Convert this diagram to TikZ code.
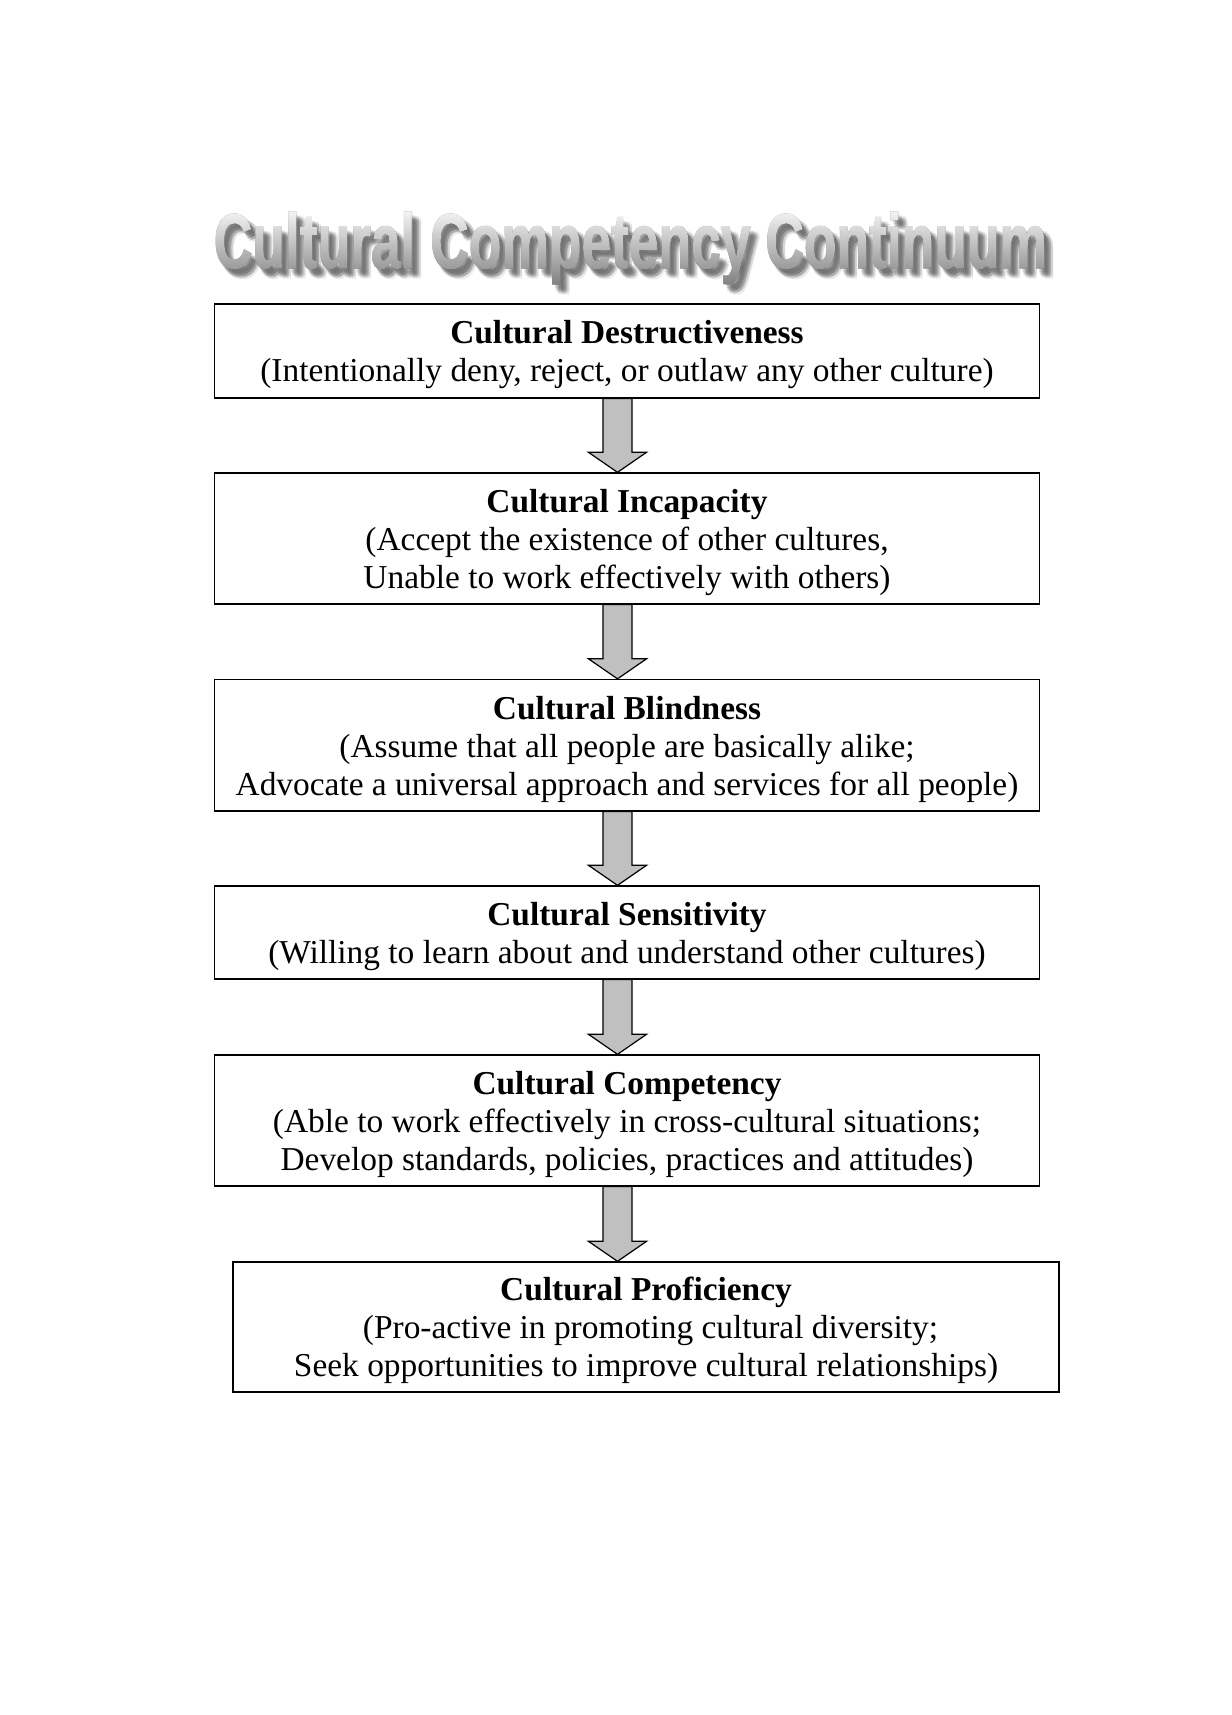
\documentclass[tikz,border=0pt]{standalone}
\usepackage{fontspec}
\setmainfont{Liberation Serif}
\newfontfamily\titlefont{Liberation Sans}[BoldFeatures={FakeBold=1.6}]
\usetikzlibrary{calc,fadings}
\definecolor{arrgray}{HTML}{C0C0C0}
\definecolor{shadowgray}{HTML}{404040}
\newcommand{\mytitletext}{\resizebox{833pt}{56pt}{\titlefont\bfseries Cultural Competency Continuum}}
\newcommand{\topstrut}{\rule{0pt}{31pt}}
\begin{tikzfadingfrompicture}[name=titlemask]
  \node[text=transparent!0, inner sep=0pt, outer sep=0pt, anchor=center] at (0,0) {\mytitletext};
\end{tikzfadingfrompicture}
\begin{document}
\begin{tikzpicture}[x=1pt,y=1pt,
  stage/.style={draw=black, line width=1.3pt, fill=white, minimum width=825pt,
    align=center, inner sep=0pt, font=\fontsize{33.4}{38}\selectfont},
  blockarr/.style={draw=black, line width=1.2pt, fill=arrgray, line join=miter},
  titlenode/.style={anchor=base, inner sep=0pt, outer sep=0pt}]
\useasboundingbox (0,0) rectangle (1231,1715);
\fill[white] (0,0) rectangle (1231,1715);

% ---- title
\path (630.5,1447) node[titlenode, text=black!38] (title) {\mytitletext};
% soft shadow (the letter shapes used as a mask, several offsets)
\foreach \dx/\dy/\op in {3/-4/0.16, 5/-6/0.18, 7/-8/0.16, 4/-7/0.14, 7/-5/0.14, 6/-9/0.12, 9/-7/0.12, 9/-10/0.10}{
  \fill[shadowgray, opacity=\op, path fading=titlemask, fit fading=false,
        fading transform={shift={($(title.center)+(\dx,\dy)$)}}]
    ($(title.south west)+(-5,-20)$) rectangle ($(title.north east)+(20,5)$);
}
% repaint the letter faces over the shadow, with a light-to-dark gradient
\shade[top color=black!4, middle color=black!22, bottom color=black!50,
       path fading=titlemask, fit fading=false,
       fading transform={shift={(title.center)}}]
  ($(title.south west)+(-2,-2)$) rectangle ($(title.north east)+(2,2)$);

% ---- stages
\node[stage, minimum height=94pt] (b1) at (627,1364)
  {\topstrut\textbf{Cultural Destructiveness}\\(Intentionally deny, reject, or outlaw any other culture)};
\node[stage, minimum height=131pt] (b2) at (627,1176.5)
  {\topstrut\textbf{Cultural Incapacity}\\(Accept the existence of other cultures,\\Unable to work effectively with others)};
\node[stage, minimum height=131.5pt] (b3) at (627,969.75)
  {\topstrut\textbf{Cultural Blindness}\\(Assume that all people are basically alike;\\Advocate a universal approach and services for all people)};
\node[stage, minimum height=93pt] (b4) at (627,782.5)
  {\topstrut\textbf{Cultural Sensitivity}\\(Willing to learn about and understand other cultures)};
\node[stage, minimum height=131pt] (b5) at (627,594.5)
  {\topstrut\textbf{Cultural Competency}\\(Able to work effectively in cross-cultural situations;\\Develop standards, policies, practices and attitudes)};
\node[stage, minimum height=130pt, minimum width=826pt] (b6) at (646,388)
  {\topstrut\textbf{Cultural Proficiency}\\\hspace*{9pt}(Pro-active in promoting cultural diversity;\\Seek opportunities to improve cultural relationships)};

% ---- block arrows
\coordinate (axis) at (617.5,0);
\foreach \a/\b in {b1/b2, b2/b3, b3/b4, b4/b5, b5/b6}{
  \path (\a.south -| axis) coordinate (s) (\b.north -| axis) coordinate (e);
  \draw[blockarr] ($(s)+(-14.5,0)$) -- ($(e)+(-14.5,20)$) -- ($(e)+(-29,20)$) -- (e)
    -- ($(e)+(29,20)$) -- ($(e)+(14.5,20)$) -- ($(s)+(14.5,0)$) -- cycle;
}
\end{tikzpicture}
\end{document}
